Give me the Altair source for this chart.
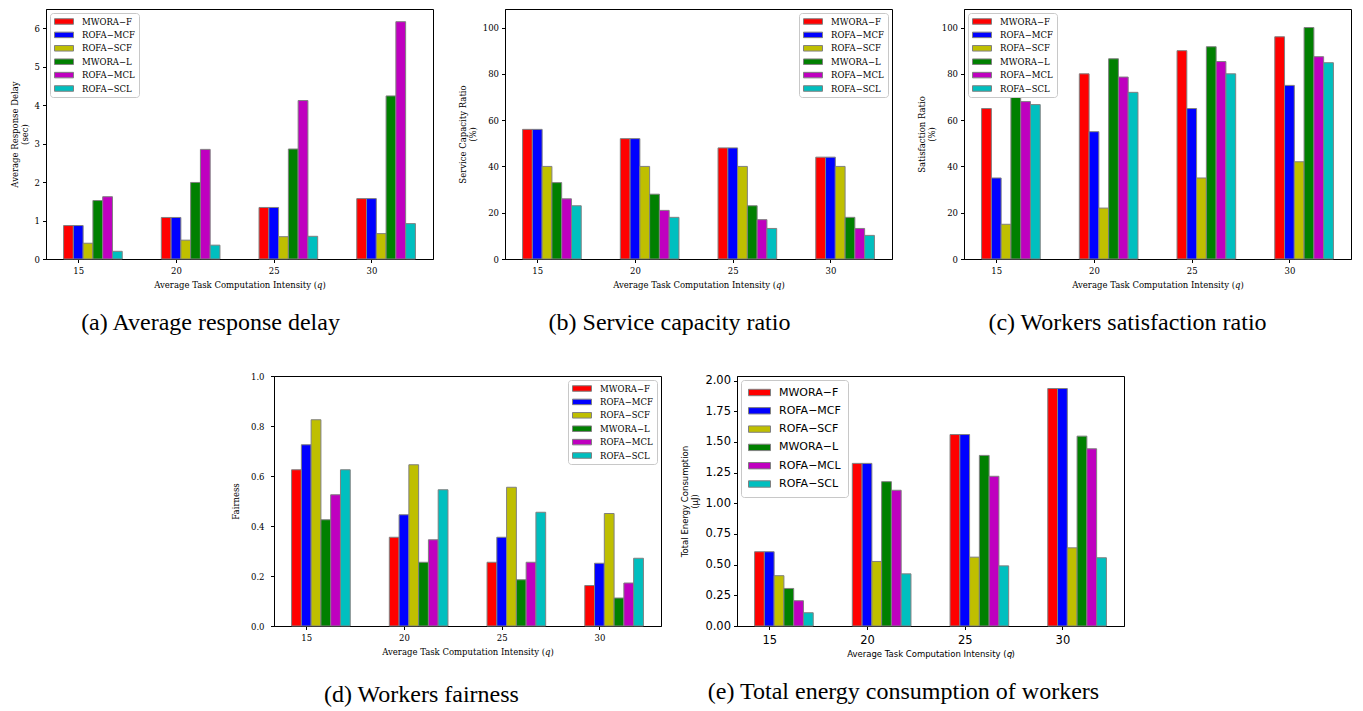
import json
import altair as alt
import pandas as pd

categories = [15, 20, 25, 30]
series = ["MWORA−F", "ROFA−MCF", "ROFA−SCF", "MWORA−L", "ROFA−MCL", "ROFA−SCL"]
colors = ["#ff0000", "#0000ff", "#bfbf00", "#008000", "#bf00bf", "#00bfbf"]

delay = [[0.87, 1.08, 1.34, 1.57], [0.87, 1.08, 1.34, 1.57], [0.41, 0.49, 0.58, 0.66],
         [1.52, 1.99, 2.86, 4.24], [1.62, 2.85, 4.12, 6.17], [0.20, 0.36, 0.59, 0.92]]
capacity = [[56, 52, 48, 44], [56, 52, 48, 44], [40, 40, 40, 40],
            [33, 28, 23, 18], [26, 21, 17, 13.2], [23, 18, 13.2, 10.2]]
satisfaction = [[65, 80, 90, 96], [35, 55, 65, 75], [15, 22, 35, 42],
                [70, 86.5, 91.7, 100], [68, 78.6, 85.3, 87.4], [66.7, 72, 80, 84.8]]
fairness = [[0.625, 0.355, 0.255, 0.162], [0.725, 0.445, 0.355, 0.251], [0.825, 0.645, 0.555, 0.45],
            [0.425, 0.255, 0.185, 0.112], [0.525, 0.345, 0.255, 0.172], [0.625, 0.545, 0.455, 0.271]]
energy = [[0.605, 1.325, 1.56, 1.935], [0.605, 1.325, 1.56, 1.935], [0.41, 0.526, 0.561, 0.637],
          [0.306, 1.176, 1.39, 1.547], [0.206, 1.106, 1.22, 1.444], [0.108, 0.425, 0.49, 0.556]]

xtitle = "Average Task Computation Intensity (𝑞)"
label_expr = json.dumps([str(c) for c in categories]) + "[datum.value]"
BAR_W = 0.1


def make_df(values):
    rows = []
    for si, name in enumerate(series):
        for gi, cat in enumerate(categories):
            center = gi + (si - 1) * BAR_W
            rows.append({"series": name, "q": cat, "x0": center - BAR_W / 2,
                         "x1": center + BAR_W / 2, "value": values[si][gi]})
    return pd.DataFrame(rows)


def panel(values, ymax, yvalues, yformat, ytitle, corner, caption, cap_dx, cap_offset,
          sans=False, ylab_pad=3, ytitle_pad=5):
    font = "DejaVu Sans" if sans else "DejaVu Serif"
    tick_fs = 11.5 if sans else 8.5
    title_fs = 8.5
    leg_fs = 11 if sans else 8.5
    sym = 22 if sans else 19
    clip_h = 11 if sans else 9
    row_pad = 6.3 if sans else 4.4
    leg_pad = 7 if sans else 4
    xlab_pad = 4.75 if sans else 4
    xtitle_pad = 3.5 if sans else 5
    axis_common = dict(grid=False, domainColor="black", tickColor="black", tickSize=3.5,
                       tickWidth=1, domainWidth=1, labelFont=font, labelFontSize=tick_fs,
                       labelColor="black", titleFont=font, titleFontSize=title_fs,
                       titleFontWeight="normal", titleColor="black")
    chart = alt.Chart(make_df(values)).mark_rect(stroke="gray", strokeWidth=1, opacity=1).encode(
        x=alt.X("x0:Q", scale=alt.Scale(domain=[-0.33, 3.63], nice=False, zero=False),
                axis=alt.Axis(values=[0, 1, 2, 3], labelExpr=label_expr, title=xtitle,
                              titlePadding=xtitle_pad, labelPadding=xlab_pad, **axis_common)),
        x2="x1:Q",
        y=alt.Y("value:Q", scale=alt.Scale(domain=[0, ymax], nice=False),
                axis=alt.Axis(values=yvalues, format=yformat, title=ytitle,
                              titlePadding=ytitle_pad, labelPadding=ylab_pad,
                              titleLineHeight=10, **axis_common)),
        y2=alt.datum(0),
        color=alt.Color("series:N", sort=series,
                        scale=alt.Scale(domain=series, range=colors),
                        legend=alt.Legend(title=None, orient=corner, offset=4, padding=leg_pad,
                                          fillColor="white", strokeColor="#c8c8c8", cornerRadius=3,
                                          symbolType="M-1,-0.29H1V0.29H-1Z", symbolSize=sym * sym,
                                          symbolStrokeColor="gray", symbolStrokeWidth=1,
                                          symbolOpacity=1, labelFont=font, labelFontSize=leg_fs,
                                          labelColor="black", clipHeight=clip_h, rowPadding=row_pad,
                                          labelOffset=8, labelLimit=200)),
    ).properties(
        width=387, height=250,
        title=alt.Title(caption, orient="bottom", font="Liberation Serif", fontSize=24,
                        fontWeight="normal", color="black", anchor="middle", frame="group",
                        dx=cap_dx, offset=cap_offset),
    )
    return chart


a = panel(delay, 6.5, [0, 1, 2, 3, 4, 5, 6], "d", ["Average Response Delay", "(sec)"],
          "top-left", "(a) Average response delay", -29, 22)
b = panel(capacity, 108, [0, 20, 40, 60, 80, 100], "d", ["Service Capacity Ratio", "(%)"],
          "top-right", "(b) Service capacity ratio", -29, 22)
c = panel(satisfaction, 108, [0, 20, 40, 60, 80, 100], "d", ["Satisfaction Ratio", "(%)"],
          "top-left", "(c) Workers satisfaction ratio", -30, 22)
d = panel(fairness, 1.0, [0, 0.2, 0.4, 0.6, 0.8, 1.0], ".1f", "Fairness",
          "top-right", "(d) Workers fairness", -46, 27, ylab_pad=6.5, ytitle_pad=10)
e = panel(energy, 2.037, [0, 0.25, 0.5, 0.75, 1.0, 1.25, 1.5, 1.75, 2.0], ".2f",
          ["Total Energy Consumption", "(μJ)"], "top-left",
          "(e) Total energy consumption of workers", -27, 22, sans=True)

spacer = alt.Chart(pd.DataFrame({"v": [0]})).mark_point(opacity=0).encode(
    x=alt.X("v:Q", axis=None), y=alt.Y("v:Q", axis=None)
).properties(width=152, height=250, view=alt.ViewBackground(strokeOpacity=0))

row1 = alt.hconcat(a, b, c, spacing=72, bounds="flush")
row2 = alt.hconcat(spacer, d, e, spacing=76, bounds="flush")
chart = alt.vconcat(row1, row2, spacing=36).properties(
    padding={"left": 1, "top": 0, "right": 0, "bottom": 0},
).configure_view(stroke="black", strokeWidth=1)

chart.save("out.html", embed_options={"renderer": "svg", "actions": False})
